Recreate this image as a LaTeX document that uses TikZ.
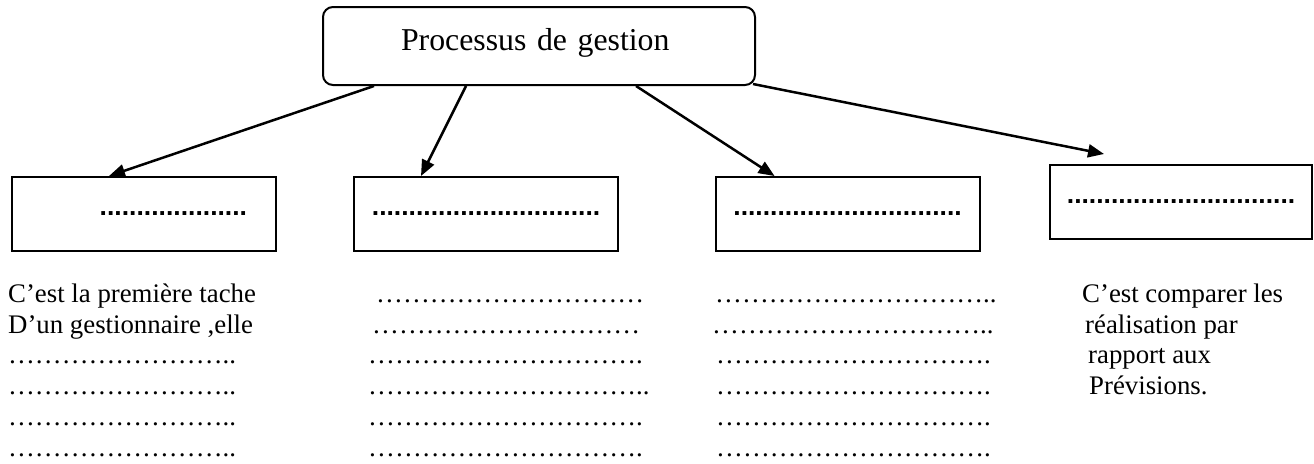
\documentclass[tikz,border=0pt]{standalone}
\usepackage{fontspec}
\setmainfont{Liberation Serif}
\setsansfont{Liberation Sans}
\usetikzlibrary{arrows.meta}
\begin{document}
\begin{tikzpicture}[x=1pt,y=-1pt,
  titlebox/.style={draw,line width=2pt,rounded corners=10pt,inner ysep=0pt},
  dotbox/.style={draw,line width=2pt,minimum width=264pt,minimum height=74pt,inner sep=0pt,
    font=\sffamily\bfseries\fontsize{26.5}{30}\selectfont},
  coltext/.style={anchor=north west,inner sep=0pt,align=left,font=\fontsize{26.8}{30.8}\selectfont},
  arr/.style={line width=2.5pt,-{Triangle[length=16pt,width=13pt]}}]
\useasboundingbox (0,0) rectangle (1314,463);

\node[titlebox,text width=276pt,inner xsep=78pt,align=left,text height=43pt,text depth=35pt,
  font=\fontsize{31.8}{36}\selectfont] (proc) at (539,46) {Processus de gestion};

\node[dotbox,text width=206pt,inner xsep=29pt,align=right] (plan) at (144,214) {....................};
\node[dotbox] (orga) at (486,214) {...............................};
\node[dotbox] (dirig) at (847.5,214) {...............................};
\node[dotbox,minimum width=262pt] (ctrl) at (1181,202) {...............................};

\draw[arr] ([xshift=52pt]proc.south west) -- ([xshift=98pt]plan.north west);
\draw[arr] ([xshift=144pt]proc.south west) -- ([xshift=68pt]orga.north west);
\draw[arr] ([xshift=314pt]proc.south west) -- ([xshift=60pt]dirig.north west);
\draw[arr] ([xshift=-3pt,yshift=2pt]proc.south east) -- ([xshift=55pt,yshift=10pt]ctrl.north west);

\node[coltext] (plantxt) at (8,282) {\rule{0pt}{20pt}C’est la première tache\\
  D’un gestionnaire ,elle\\
  ……………………..\\
  ……………………..\\
  ……………………..\\
  ……………………..};
\node[coltext] (orgatxt) at (368,282) {\rule{0pt}{20pt}\hspace*{8pt}…………………………\\
  \hspace*{4pt}…………………………\\
  ………………………….\\
  …………………………..\\
  ………………………….\\
  ………………………….};
\node[coltext] (dirigtxt) at (712,282) {\rule{0pt}{20pt}\hspace*{3pt}…………………………..\\
  …………………………..\\
  \hspace*{4pt}………………………….\\
  \hspace*{4pt}………………………….\\
  \hspace*{4pt}………………………….\\
  \hspace*{4pt}………………………….};
\node[coltext] (ctrltxt) at (1082,282) {\rule{0pt}{20pt}C’est comparer les\\
  \hspace*{3pt}réalisation par\\
  \hspace*{6pt}rapport aux\\
  \hspace*{7pt}Prévisions.};
\end{tikzpicture}
\end{document}
